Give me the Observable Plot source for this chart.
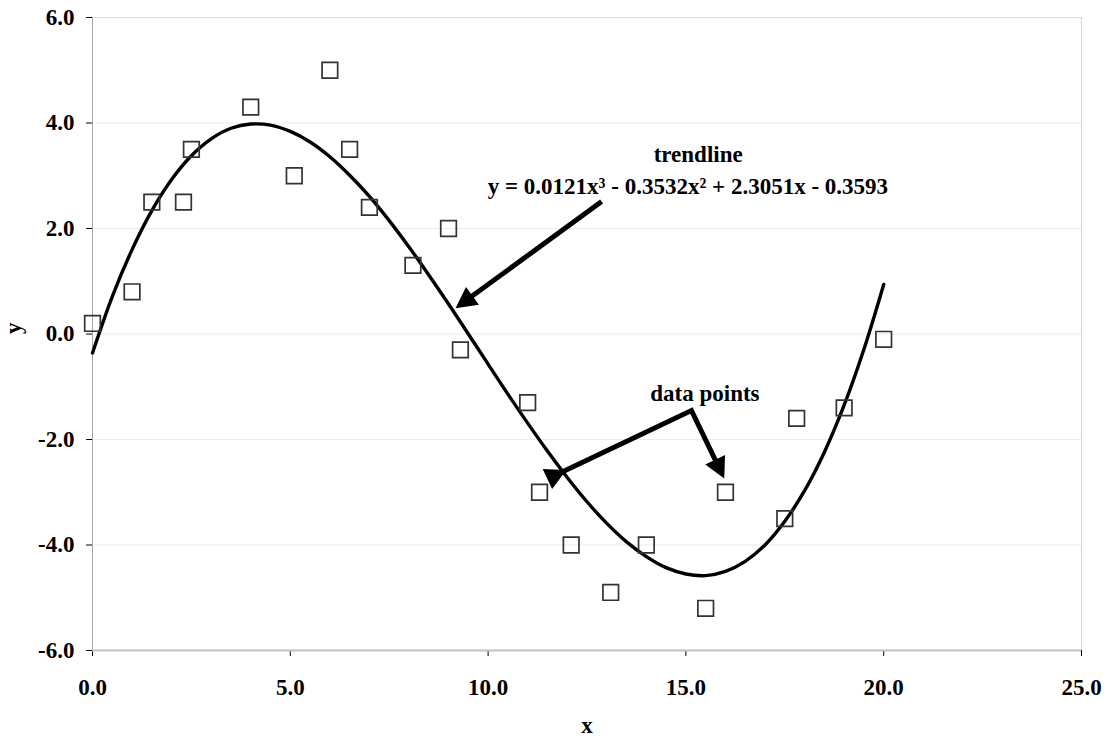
<!DOCTYPE html>
<html>
<head>
<meta charset="utf-8">
<script src="https://cdn.jsdelivr.net/npm/d3@7"></script>
<script src="https://cdn.jsdelivr.net/npm/@observablehq/plot@0.6"></script>
<style>
  body { margin: 0; background: #fff; }
</style>
</head>
<body>
<div id="chart"></div>
<script>
// ---- data ----
const pointX = [0, 1.0, 1.5, 2.3, 2.5, 4.0, 5.1, 6.0, 6.5, 7.0, 8.1, 9.0, 9.3, 11.0, 11.3, 12.1, 13.1, 14.0, 15.5, 16.0, 17.5, 17.8, 19.0, 20.0];
const pointY = [0.2, 0.8, 2.5, 2.5, 3.5, 4.3, 3.0, 5.0, 3.5, 2.4, 1.3, 2.0, -0.3, -1.3, -3.0, -4.0, -4.9, -4.0, -5.2, -3.0, -3.5, -1.6, -1.4, -0.1];

const trendX = [0, 0.5, 1, 1.5, 2, 2.5, 3, 3.5, 4, 4.5, 5, 5.5, 6, 6.5, 7, 7.5, 8, 8.5, 9, 9.5, 10,
                10.5, 11, 11.5, 12, 12.5, 13, 13.5, 14, 14.5, 15, 15.5, 16, 16.5, 17, 17.5, 18, 18.5, 19, 19.5, 20];
const trendY = [-0.36, 0.71, 1.60, 2.34, 2.93, 3.38, 3.70, 3.90, 3.98, 3.96, 3.84, 3.64, 3.36, 3.01, 2.61, 2.15, 1.65, 1.12, 0.57, 0.00, -0.57,
                -1.14, -1.69, -2.22, -2.72, -3.18, -3.59, -3.94, -4.22, -4.43, -4.55, -4.58, -4.50, -4.31, -4.00, -3.55, -2.97, -2.24, -1.35, -0.29, 0.94];

const xTicks = [0, 5, 10, 15, 20, 25];
const yTicks = [-6, -4, -2, 0, 2, 4, 6];
const gridY = [-4, -2, 0, 2, 4];

const annText = ["trendline", "y = 0.0121x³ - 0.3532x² + 2.3051x - 0.3593", "data points"];
const annX = [15.31, 15.05, 15.48];
const annY = [3.40, 2.80, -1.13];

// arrow 1 (trendline): start -> end
const arrow1 = [{x1: 12.87, y1: 2.51, x2: 9.38, y2: 0.60}];
// arrows 2 & 3 (data points): one polyline end2 -> vertex -> end3
const arrow23X = [11.75, 15.14, 15.86];
const arrow23Y = [-2.66, -1.45, -2.57];

const points = pointX.map((x, i) => ({x, y: pointY[i]}));
const trend = trendX.map((x, i) => ({x, y: trendY[i]}));
const ann = annText.map((t, i) => ({t, x: annX[i], y: annY[i]}));
const arrow23 = arrow23X.map((x, i) => ({x, y: arrow23Y[i]}));

const fmt = d => d.toFixed(1);

const svg = Plot.plot({
  width: 1109,
  height: 736,
  marginLeft: 92,
  marginRight: 28,
  marginTop: 17,
  marginBottom: 86,
  style: {
    fontFamily: "'Liberation Serif', 'Times New Roman', serif",
    fontSize: "23px",
    fontWeight: "bold",
    color: "#000",
    background: "#fff"
  },
  x: {
    domain: [0, 25],
    ticks: xTicks,
    tickFormat: fmt,
    tickSize: 6,
    tickPadding: 22,
    label: null
  },
  y: {
    domain: [-6, 6],
    ticks: yTicks,
    tickFormat: fmt,
    tickSize: 6,
    tickPadding: 12,
    label: null
  },
  marks: [
    Plot.ruleY(gridY, {stroke: "#ebebeb", strokeWidth: 1}),
    Plot.ruleY([6], {stroke: "#dcdcdc", strokeWidth: 1}),
    Plot.ruleX([25], {stroke: "#d4d4d4", strokeWidth: 1}),
    Plot.ruleX([0], {stroke: "#a8a8a8", strokeWidth: 1}),
    Plot.ruleY([-6], {stroke: "#c0c0c0", strokeWidth: 2}),
    Plot.line(trend, {x: "x", y: "y", curve: "catmull-rom", stroke: "#000", strokeWidth: 3.4}),
    Plot.dot(points, {x: "x", y: "y", symbol: "square", r: 8.8, stroke: "#333", strokeWidth: 1.7, fill: "none"}),
    Plot.link(arrow1, {x1: "x1", y1: "y1", x2: "x2", y2: "y2", stroke: "#000", strokeWidth: 5, markerEnd: "arrow"}),
    Plot.line(arrow23, {x: "x", y: "y", stroke: "#000", strokeWidth: 5, strokeLinejoin: "miter", strokeMiterlimit: 10, strokeLinecap: "butt", markerStart: "arrow", markerEnd: "arrow"}),
    Plot.text(ann, {x: "x", y: "y", text: "t", textAnchor: "middle", fontSize: 23, fontWeight: "bold", fill: "#000"}),
    Plot.text(["x"], {frameAnchor: "bottom", dy: 82, text: d => d, fontSize: 23, fontWeight: "bold", fill: "#000"}),
    Plot.text(["y"], {frameAnchor: "left", dx: -79, rotate: -90, text: d => d, fontSize: 23, fontWeight: "bold", fill: "#000"})
  ]
});

// turn Plot's open arrow markers into filled arrowheads
svg.querySelectorAll("marker").forEach(m => {
  m.setAttribute("viewBox", "-12 -12 24 24");
  m.setAttribute("markerUnits", "userSpaceOnUse");
  m.setAttribute("markerWidth", "24");
  m.setAttribute("markerHeight", "24");
  m.setAttribute("fill", "#000");
  m.setAttribute("stroke", "none");
  while (m.firstChild) m.removeChild(m.firstChild);
  const p = document.createElementNS("http://www.w3.org/2000/svg", "path");
  p.setAttribute("d", "M-11,-11L10,0L-11,11Z");
  m.appendChild(p);
});

document.getElementById("chart").appendChild(svg);
</script>
</body>
</html>
